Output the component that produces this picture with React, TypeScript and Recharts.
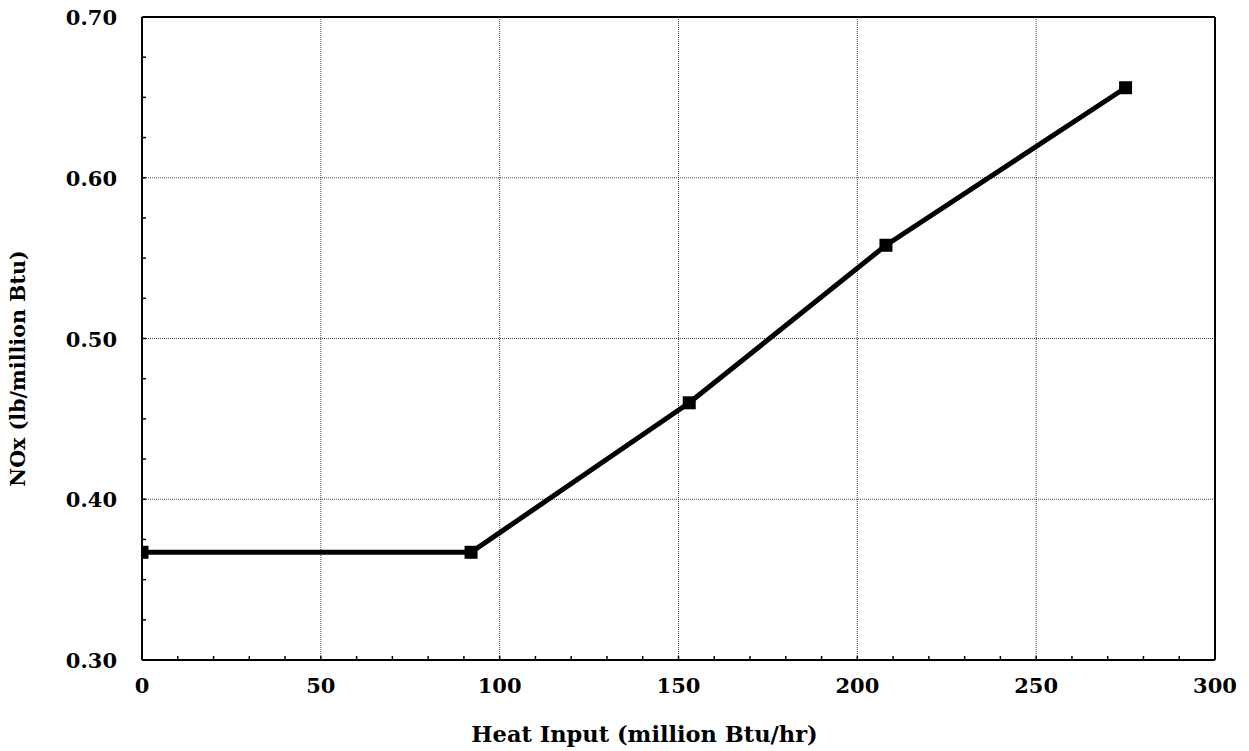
import React from 'react';
import { LineChart, Line, XAxis, YAxis, ReferenceLine, Label } from 'recharts';

// heat input (million Btu/hr) vs NOx rate (lb/million Btu)
const heatInput = [0, 92, 153, 208, 275];
const noxRate = [0.367, 0.367, 0.46, 0.558, 0.656];

const xLabels = [0, 50, 100, 150, 200, 250, 300];
const xMinorTicks = [
  0, 10, 20, 30, 40, 50, 60, 70, 80, 90, 100, 110, 120, 130, 140, 150,
  160, 170, 180, 190, 200, 210, 220, 230, 240, 250, 260, 270, 280, 290, 300
];
const yLabels = [0.3, 0.4, 0.5, 0.6, 0.7];
const yMinorTicks = [
  0.3, 0.325, 0.35, 0.375, 0.4, 0.425, 0.45, 0.475, 0.5, 0.525, 0.55,
  0.575, 0.6, 0.625, 0.65, 0.675, 0.7
];
const xGrid = [50, 100, 150, 200, 250];
const yGrid = [0.4, 0.5, 0.6];

const data = heatInput.map((h, i) => ({ heat: h, nox: noxRate[i] }));

const fontStyle = {
  fontFamily: '"DejaVu Serif", serif',
  fontWeight: 'bold' as const,
  fontSize: 21,
  fill: '#000'
};

const isLabel = (list: number[], v: number) =>
  list.some(l => Math.abs(l - v) < 1e-6);

const XTick = ({ x, y, payload }: any) => {
  if (!isLabel(xLabels, payload.value)) return <g />;
  return (
    <text x={x} y={y + 37} textAnchor="middle" style={fontStyle}>
      {payload.value}
    </text>
  );
};

const YTick = ({ x, y, payload }: any) => {
  if (!isLabel(yLabels, payload.value)) return <g />;
  return (
    <text x={x - 29} y={y + 8} textAnchor="end" style={fontStyle}>
      {payload.value.toFixed(2)}
    </text>
  );
};

const SquareDot = ({ cx, cy }: any) => (
  <rect x={cx - 6.5} y={cy - 6.5} width={13} height={13} fill="#000" />
);

const tickLine = { stroke: '#000', strokeWidth: 1.5 };
const axisLine = { stroke: '#000', strokeWidth: 2 };

export default function App() {
  return (
    <div style={{ position: 'absolute', left: 0, top: 0, background: '#fff' }}>
      <LineChart
        width={1249}
        height={751}
        data={data}
        margin={{ top: 16, right: 33, bottom: 31, left: 0 }}
      >
        <XAxis
          dataKey="heat"
          type="number"
          domain={[0, 300]}
          allowDataOverflow
          ticks={xMinorTicks}
          interval={0}
          tickSize={-4}
          tickMargin={0}
          tickLine={tickLine}
          axisLine={axisLine}
          tick={<XTick />}
          height={60}
        >
          <Label
            content={({ viewBox }: any) => (
              <text
                x={viewBox.x + viewBox.width / 2 - 34}
                y={viewBox.y + 82}
                textAnchor="middle"
                style={{ ...fontStyle, fontSize: 22.5 }}
              >
                Heat Input (million Btu/hr)
              </text>
            )}
          />
        </XAxis>
        <XAxis
          xAxisId="top"
          orientation="top"
          dataKey="heat"
          type="number"
          domain={[0, 300]}
          allowDataOverflow
          ticks={xMinorTicks}
          interval={0}
          tickSize={-4}
          tickLine={tickLine}
          axisLine={axisLine}
          tick={false}
          height={1}
        />
        <YAxis
          type="number"
          domain={[0.3, 0.7]}
          allowDataOverflow
          ticks={yMinorTicks}
          interval={0}
          tickSize={-4}
          tickMargin={0}
          tickLine={tickLine}
          axisLine={axisLine}
          tick={<YTick />}
          width={142}
        >
          <Label
            content={({ viewBox }: any) => {
              const cx = 18;
              const cy = viewBox.y + viewBox.height / 2 + 30;
              return (
                <text
                  x={cx}
                  y={cy}
                  textAnchor="middle"
                  dominantBaseline="central"
                  transform={`rotate(-90, ${cx}, ${cy})`}
                  style={{ ...fontStyle, fontSize: 20.6 }}
                >
                  NOx (lb/million Btu)
                </text>
              );
            }}
          />
        </YAxis>
        <YAxis
          yAxisId="right"
          orientation="right"
          type="number"
          domain={[0.3, 0.7]}
          allowDataOverflow
          ticks={yMinorTicks}
          interval={0}
          tickSize={-4}
          tickLine={tickLine}
          axisLine={axisLine}
          tick={false}
          width={1}
        />
        {xGrid.map(v => (
          <ReferenceLine
            key={`vx-${v}`}
            x={v}
            stroke="#444"
            strokeWidth={1}
            strokeDasharray="1 1"
          />
        ))}
        {yGrid.map(v => (
          <ReferenceLine
            key={`hy-${v}`}
            y={v}
            stroke="#444"
            strokeWidth={1}
            strokeDasharray="1 1"
          />
        ))}
        {/* invisible series tied to the top/right frame axes */}
        <Line
          xAxisId="top"
          yAxisId="right"
          dataKey="nox"
          stroke="none"
          dot={false}
          activeDot={false}
          isAnimationActive={false}
        />
        <Line
          dataKey="nox"
          stroke="#000"
          strokeWidth={5}
          dot={<SquareDot />}
          activeDot={false}
          isAnimationActive={false}
        />
      </LineChart>
    </div>
  );
}
